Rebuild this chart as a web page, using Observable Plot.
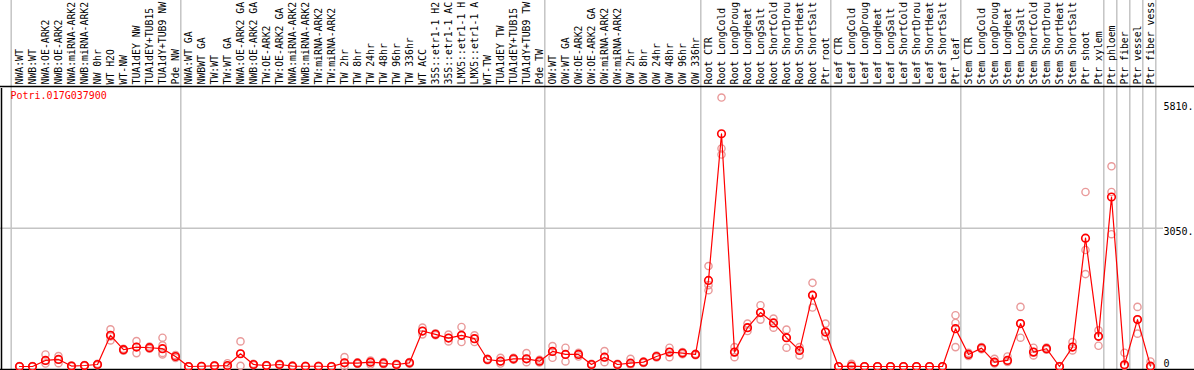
<!DOCTYPE html>
<html>
<head>
<meta charset="utf-8">
<script src="https://cdn.jsdelivr.net/npm/d3@7"></script>
<script src="https://cdn.jsdelivr.net/npm/@observablehq/plot@0.6"></script>
<style>
  html, body { margin: 0; padding: 0; background: white; }
  svg { display: block; }
</style>
</head>
<body>
<div id="chart"></div>
<script>
const gene = "Potri.017G037900";

const labels = [
  "NWA:WT","NWB:WT","NWA:OE-ARK2","NWB:OE-ARK2","NWA:miRNA-ARK2","NWB:miRNA-ARK2","NW 0hr","WT H2O","WT-NW",
  "TUA1dEY NW","TUA1dEY+TUB15","TUA1dY+TUB9 NW","Pde NW",
  "NWA:WT GA","NWBWT GA","TW:WT","TW:WT GA","NWA:OE-ARK2 GA","NWB:OE-ARK2 GA","TW:OE-ARK2","TW:OE-ARK2 GA",
  "NWA:miRNA-ARK2","NWB:miRNA-ARK2","TW:miRNA-ARK2","TW:miRNA-ARK2",
  "TW 2hr","TW 8hr","TW 24hr","TW 48hr","TW 96hr","TW 336hr",
  "WT ACC","35S::etr1-1 H2","35S::etr1-1 AC","LMX5::etr1-1 H","LMX5::etr1-1 A",
  "WT-TW","TUA1dEY TW","TUA1dEY+TUB15","TUA1dY+TUB9 TW","Pde TW",
  "OW:WT","OW:WT GA","OW:OE-ARK2","OW:OE-ARK2 GA","OW:miRNA-ARK2","OW:miRNA-ARK2",
  "OW 2hr","OW 8hr","OW 24hr","OW 48hr","OW 96hr","OW 336hr",
  "Root CTR","Root LongCold","Root LongDroug","Root LongHeat","Root LongSalt","Root ShortCold","Root ShortDrou","Root ShortHeat","Root ShortSalt","Ptr root",
  "Leaf CTR","Leaf LongCold","Leaf LongDroug","Leaf LongHeat","Leaf LongSalt","Leaf ShortCold","Leaf ShortDrou","Leaf ShortHeat","Leaf ShortSalt","Ptr leaf",
  "Stem CTR","Stem LongCold","Stem LongDroug","Stem LongHeat","Stem LongSalt","Stem ShortCold","Stem ShortDrou","Stem ShortHeat","Stem ShortSalt",
  "Ptr shoot","Ptr xylem","Ptr phloem","Ptr fiber","Ptr vessel","Ptr fiber vess"
];

const means = [
  0,0,133,155,10,22,44,687,370,428,414,392,221,
  0,5,15,22,281,44,22,44,7,5,5,0,
  81,73,96,73,44,81,
  782,709,627,687,613,
  155,118,170,170,118,
  332,266,266,44,206,44,
  73,96,221,317,295,266,
  1898,5132,317,857,1189,960,635,354,1573,760,
  0,10,0,0,0,0,0,0,0,835,
  266,406,96,133,946,317,392,0,428,
  2829,665,3737,37,1034,7
];

const reps = [
  [0,5,10],[0,5,10],[266,133,66],[228,155,73],[0,10,20],[15,22,30],[30,44,60],[820,665,576],[350,370,390],
  [560,430,295],[440,414,390],[635,465,300,266],[250,221,190],
  [0,5,0],[0,10,5],[15,25,5],[73,10,0],[554,281,15],[44,60,30],[22,30,15],[44,60,30],
  [7,20,0],[5,15,0],[5,15,0],[0,10,0],
  [206,81,0],[73,90,60],[133,96,44],[73,96,50],[44,60,30],[81,100,60],
  [857,782,709],[730,709,690],[702,627,554],[871,687,539],[687,613,539],
  [170,155,140],[192,118,66],[190,170,150],[295,170,96],[150,118,90],
  [450,332,192],[414,266,111],[300,266,220],[44,60,30],[339,206,96],[44,60,30],
  [170,73,40],[96,110,80],[221,240,200],[414,317,206],[295,320,270],[266,280,250],
  [2215,1794,1683],[5930,4807,4674],[428,317,206],[946,857,782],[1351,1189,1034],[1056,960,857],[813,635,414],[428,354,244],[1845,1573,1300],[946,760,665],
  [0,5,0],[60,10,0],[0,5,0],[0,5,0],[0,5,0],[0,5,0],[0,5,0],[0,5,0],[0,5,0],[1130,960,428],
  [300,266,230],[430,406,380],[170,96,66],[221,133,100],[1314,946,635],[414,317,244],[420,392,370],[0,10,0],[539,428,354],
  [3848,2569,2038],[797,665,458],[4414,3848,2917],[303,37,20],[1314,1034,724],[111,7,0]
];

// indices after which a group separator is drawn
const groupEnds = [12, 40, 52, 62, 72, 83, 84, 85, 86, 87];

const tickValues = [5810, 3050];
const tickLabels = ["5810.", "3050."];
const zeroTick = [0];
const zeroLabel = ["0"];
const gridValues = [3050];

const W = 1194, H = 370;
const mTop = 88, mBottom = 4, mLeft = 12.5, mRight = 37.5;
const yMax = 6130;
const pxPerUnit = (H - mTop - mBottom) / yMax;
const yAtTop = (H - mBottom) / pxPerUnit;      // value at pixel 0
const yAtBottom = -mBottom / pxPerUnit;        // value at pixel H

const repData = reps.flatMap((r, i) => r.map(v => ({i, v})));
const meanData = means.map((v, i) => ({i, v}));
const labelData = labels.map((t, i) => ({i, t}));

const font = "'DejaVu Sans Mono', monospace";

const chart = Plot.plot({
  width: W, height: H,
  marginTop: mTop, marginBottom: mBottom, marginLeft: mLeft, marginRight: mRight,
  x: {type: "point", domain: d3.range(labels.length), padding: 0.5, axis: null},
  y: {domain: [0, yMax], axis: null},
  style: {fontFamily: font, fontSize: "10px", background: "white", color: "black"},
  marks: [
    Plot.ruleY(gridValues, {y: d => d, stroke: "#c4c4c4", strokeWidth: 1.5, insetLeft: -mLeft, insetRight: -6.5}),
    Plot.ruleX([0], {x: d => d, dx: -8.3, y1: yAtBottom, y2: yAtTop, stroke: "#c4c4c4", strokeWidth: 1.5}),
    Plot.ruleX(groupEnds, {x: d => d, dx: 5.3, y1: yAtBottom, y2: yAtTop, stroke: "#c4c4c4", strokeWidth: 1.5}),
    Plot.ruleY([yMax], {y: d => d, dy: -2, stroke: "black", strokeWidth: 1.5, insetLeft: -mLeft, insetRight: -mRight}),
    Plot.ruleY([0], {y: d => d, dy: 3, stroke: "black", strokeWidth: 1.5, insetLeft: -mLeft, insetRight: -mRight}),
    Plot.ruleX([0], {x: d => d, dx: -18, y1: yAtBottom, y2: yMax, stroke: "black", strokeWidth: 1.5}),
    Plot.text(labelData, {
      x: "i", text: "t", frameAnchor: "top", dy: -4, rotate: -90,
      textAnchor: "start", lineAnchor: "middle", fill: "black", fontSize: 9.8, fontFamily: font
    }),
    Plot.dot(repData, {x: "i", y: "v", r: 3.6, stroke: "#e99a9a", strokeWidth: 1.4, fill: "none"}),
    Plot.line(meanData, {x: "i", y: "v", stroke: "#ff0000", strokeWidth: 1.2}),
    Plot.dot(meanData, {x: "i", y: "v", r: 3.8, stroke: "#ff0000", strokeWidth: 1.6, fill: "none"}),
    Plot.text([gene], {
      text: d => d, frameAnchor: "top-left", dx: 10 - mLeft, dy: 3,
      textAnchor: "start", lineAnchor: "top", fill: "#ff0000", fontSize: 10, fontFamily: font
    }),
    Plot.text(tickValues, {
      y: d => d, text: (d, i) => tickLabels[i], frameAnchor: "right", dx: 6.5,
      textAnchor: "start", lineAnchor: "top", fill: "black", fontSize: 10, fontFamily: font
    }),
    Plot.text(zeroTick, {
      y: d => d, text: (d, i) => zeroLabel[i], frameAnchor: "right", dx: 6.5, dy: 0,
      textAnchor: "start", lineAnchor: "bottom", fill: "black", fontSize: 10, fontFamily: font
    })
  ]
});

document.getElementById("chart").appendChild(chart);
</script>
</body>
</html>
